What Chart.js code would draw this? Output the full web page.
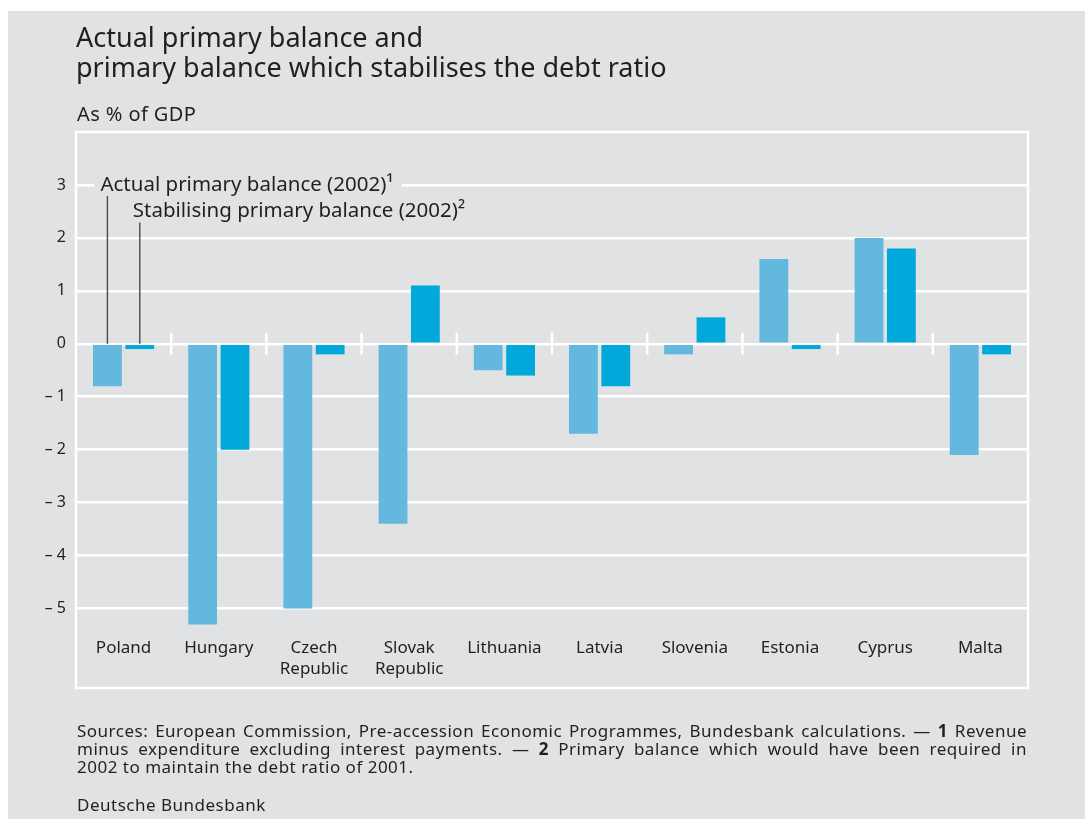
<!DOCTYPE html>
<html>
<head>
<meta charset="utf-8">
<script src="https://cdn.jsdelivr.net/npm/chart.js@4/dist/chart.umd.min.js"></script>
<style>
  body { margin: 0; background: #ffffff; }
  #panel { position: absolute; left: 8px; top: 11px; right: 0; bottom: 0; background: #e1e2e4; }
  #chart { position: absolute; left: 0; top: 0; }
  .txt { position: absolute; color: #231f20; font-family: "Noto Sans", sans-serif; white-space: nowrap; }
  #title { left: 76px; top: 22px; font-size: 27px; line-height: 30px; }
  #unit { left: 77px; top: 101px; font-size: 20px; line-height: 26px; letter-spacing: 0.4px; }
  #notes { left: 77px; top: 722px; width: 950px; font-size: 17px; line-height: 18px; letter-spacing: 0.5px; }
  #notes div { text-align: justify; text-align-last: justify; white-space: nowrap; }
  #notes div.last { text-align-last: left; }
  #source { left: 77px; top: 795px; font-size: 17px; line-height: 20px; letter-spacing: 0.5px; }
</style>
</head>
<body>
<div id="panel"></div>
<canvas id="chart" width="1085" height="819"></canvas>
<div class="txt" id="title">Actual primary balance and<br>primary balance which stabilises the debt ratio</div>
<div class="txt" id="unit">As % of GDP</div>
<div class="txt" id="notes">
  <div>Sources: European Commission, Pre-accession Economic Programmes, Bundesbank calculations. — <b>1</b> Revenue</div>
  <div>minus expenditure excluding interest payments. — <b>2</b> Primary balance which would have been required in</div>
  <div class="last">2002 to maintain the debt ratio of 2001.</div>
</div>
<div class="txt" id="source">Deutsche Bundesbank</div>

<script>
// Chart data
const categories = ["Poland", "Hungary", ["Czech", "Republic"], ["Slovak", "Republic"], "Lithuania", "Latvia", "Slovenia", "Estonia", "Cyprus", "Malta"];
const actualBalance = [-0.8, -5.3, -5.0, -3.4, -0.5, -1.7, -0.2, 1.6, 2.0, -2.1];
const stabilisingBalance = [-0.1, -2.0, -0.2, 1.1, -0.6, -0.8, 0.5, -0.1, 1.8, -0.2];
const yTickValues = [3, 2, 1, 0, -1, -2, -3, -4, -5];
const seriesLabels = ["Actual primary balance (2002)\u00b9", "Stabilising primary balance (2002)\u00b2"];
// value at which each series label sits
const labelLevels = [3, 2.5];

const bgColor = "#e1e2e4";
const textColor = "#231f20";

// frame, zero-line ticks and series labels
const decorPlugin = {
  id: "decor",
  beforeDatasetsDraw(chart) {
    const ctx = chart.ctx;
    const area = chart.chartArea;
    const x = chart.scales.x;
    const y = chart.scales.y;
    const y0 = y.getPixelForValue(0);
    ctx.save();
    ctx.strokeStyle = "#ffffff";
    ctx.lineWidth = 2.5;
    // outer frame
    ctx.strokeRect(area.left, area.top, area.right - area.left, x.bottom - area.top);
    // small ticks between categories on the zero line
    for (let i = 0; i < categories.length - 1; i++) {
      const bx = (x.getPixelForValue(i) + x.getPixelForValue(i + 1)) / 2;
      ctx.beginPath();
      ctx.moveTo(bx, y0 - 11);
      ctx.lineTo(bx, y0 + 11);
      ctx.stroke();
    }
    ctx.restore();
  },
  afterDatasetsDraw(chart) {
    const ctx = chart.ctx;
    const y = chart.scales.y;
    const y0 = y.getPixelForValue(0);
    ctx.save();
    ctx.font = "20.5px 'Noto Sans', sans-serif";
    ctx.textBaseline = "middle";
    seriesLabels.forEach(function (label, i) {
      const bar = chart.getDatasetMeta(i).data[0];
      const ty = y.getPixelForValue(labelLevels[i]);
      const tx = bar.x - 7;
      const w = ctx.measureText(label).width;
      // gap in gridline behind text
      ctx.fillStyle = bgColor;
      ctx.fillRect(tx - 6, ty - 4, w + 14, 8);
      ctx.fillStyle = textColor;
      ctx.fillText(label, tx, ty);
      // leader line down to the bar
      ctx.strokeStyle = "#4a4a4a";
      ctx.lineWidth = 1.4;
      ctx.beginPath();
      ctx.moveTo(bar.x, ty + 11);
      ctx.lineTo(bar.x, y0);
      ctx.stroke();
    });
    ctx.restore();
  },
};

const chartCtx = document.getElementById("chart").getContext("2d");
new Chart(chartCtx, {
  type: "bar",
  data: {
    labels: categories,
    datasets: [
      {
        label: seriesLabels[0],
        data: actualBalance,
        backgroundColor: "#63b8dd",
        barPercentage: 0.89,
        categoryPercentage: 0.68,
      },
      {
        label: seriesLabels[1],
        data: stabilisingBalance,
        backgroundColor: "#00a9da",
        barPercentage: 0.89,
        categoryPercentage: 0.68,
      },
    ],
  },
  options: {
    responsive: false,
    animation: false,
    devicePixelRatio: 1,
    layout: {
      padding: { left: 0, right: 57, top: 132, bottom: 131 },
    },
    plugins: {
      legend: { display: false },
      tooltip: { enabled: false },
    },
    scales: {
      x: {
        afterFit: function (scale) {
          scale.height = 53;
        },
        grid: { display: false, drawTicks: false },
        border: { display: false },
        ticks: {
          color: textColor,
          padding: 3,
          maxRotation: 0,
          autoSkip: false,
          font: { family: "'Noto Sans', sans-serif", size: 17, lineHeight: 1.22 },
        },
      },
      y: {
        min: -5.5,
        max: 4,
        afterFit: function (scale) {
          scale.width = 76;
        },
        afterBuildTicks: function (scale) {
          scale.ticks = yTickValues.map(function (v) {
            return { value: v };
          });
        },
        grid: { color: "#ffffff", lineWidth: 2.5, drawTicks: false },
        border: { display: false },
        ticks: {
          color: textColor,
          padding: 10,
          font: { family: "'Noto Sans', sans-serif", size: 16 },
          callback: function (value) {
            return value < 0 ? "\u2013 " + Math.abs(value) : String(value);
          },
        },
      },
    },
  },
  plugins: [decorPlugin],
});
</script>
</body>
</html>
